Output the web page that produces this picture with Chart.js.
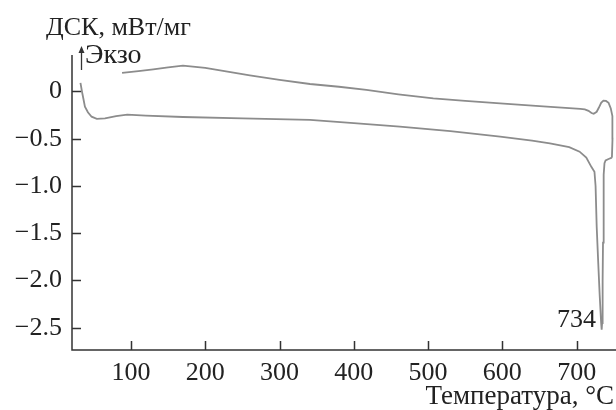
<!DOCTYPE html>
<html lang="ru">
<head>
<meta charset="utf-8">
<title>ДСК</title>
<script src="https://cdn.jsdelivr.net/npm/chart.js@4/dist/chart.umd.min.js"></script>
<style>
html, body { margin: 0; padding: 0; background: #fff; }
#wrap { width: 616px; height: 410px; }
</style>
</head>
<body>
<div id="wrap"><canvas id="dsc" width="616" height="410"></canvas></div>
<script>
// heating run (lower curve with the 734 °C peak)
const heatT = [32, 34, 36, 38, 42, 47, 54, 65, 80, 95, 120, 170, 250, 341, 400, 462, 530, 597, 640, 664, 690, 704, 713, 720, 724, 725.5, 727, 729, 731, 733, 733.7, 734.3, 735, 735.5, 736, 736.8, 737.5, 739, 743, 747.5];
const heatV = [0.09, 0.0, -0.08, -0.16, -0.22, -0.267, -0.29, -0.285, -0.26, -0.245, -0.255, -0.27, -0.285, -0.30, -0.335, -0.372, -0.42, -0.478, -0.52, -0.55, -0.59, -0.637, -0.70, -0.80, -0.85, -1.0, -1.43, -1.8, -2.15, -2.45, -2.52, -2.45, -2.0, -1.6, -1.2, -0.88, -0.76, -0.73, -0.715, -0.70];
// cooling run (upper curve), from the turning point back to ~90 °C
const coolT = [747.5, 748.3, 748.5, 747.8, 746, 743, 739.5, 736, 733, 730, 727, 723, 720, 716, 711, 705, 650, 597, 550, 507, 460, 417, 380, 341, 300, 260, 230, 200, 170, 150, 130, 110, 88];
const coolV = [-0.70, -0.50, -0.35, -0.26, -0.18, -0.12, -0.10, -0.097, -0.12, -0.17, -0.215, -0.235, -0.228, -0.205, -0.19, -0.185, -0.155, -0.125, -0.10, -0.072, -0.03, 0.016, 0.05, 0.079, 0.123, 0.17, 0.21, 0.25, 0.273, 0.255, 0.235, 0.215, 0.196];

const xTicks = [100, 200, 300, 400, 500, 600, 700];
const yTicks = [0, -0.5, -1.0, -1.5, -2.0, -2.5];
const peakLabel = '734';
const peakT = 734;

const serif = '"Liberation Serif", "DejaVu Serif", serif';
const inkColor = '#333';
const curveColor = '#8c8c8c';

function pts(xs, ys) {
    return xs.map((x, i) => ({x: x, y: ys[i]}));
}

function fmtY(v) {
    if (v === 0) return '0';
    return (v < 0 ? '\u2212' : '') + Math.abs(v).toFixed(1);
}

// axes with inward ticks + free text
const decor = {
    id: 'decor',
    afterDraw(chart) {
        const ctx = chart.ctx;
        const a = chart.chartArea;
        const xs = chart.scales.x, ys = chart.scales.y;
        ctx.save();
        ctx.strokeStyle = inkColor;
        ctx.lineWidth = 1.5;
        ctx.beginPath();
        ctx.moveTo(a.left, a.top);
        ctx.lineTo(a.left, a.bottom);
        ctx.lineTo(a.right, a.bottom);
        for (const v of yTicks) {
            const py = Math.round(ys.getPixelForValue(v)) + 0.5;
            ctx.moveTo(a.left, py);
            ctx.lineTo(a.left + 9, py);
        }
        for (const v of xTicks) {
            const px = Math.round(xs.getPixelForValue(v)) + 0.5;
            ctx.moveTo(px, a.bottom);
            ctx.lineTo(px, a.bottom - 9);
        }
        ctx.stroke();

        // exo arrow
        ctx.lineWidth = 1.3;
        ctx.beginPath();
        ctx.moveTo(81.5, 70);
        ctx.lineTo(81.5, 50);
        ctx.stroke();
        ctx.fillStyle = inkColor;
        ctx.beginPath();
        ctx.moveTo(81.5, 46);
        ctx.lineTo(78.5, 53);
        ctx.lineTo(84.5, 53);
        ctx.closePath();
        ctx.fill();

        ctx.fillStyle = '#222';
        ctx.textBaseline = 'alphabetic';
        ctx.textAlign = 'left';
        ctx.font = '26px ' + serif;
        ctx.fillText('ДСК, мВт/мг', 46, 35);
        ctx.font = '28px ' + serif;
        ctx.fillText('Экзо', 85, 63);

        ctx.textAlign = 'right';
        ctx.textBaseline = 'middle';
        ctx.font = '26px ' + serif;
        ctx.fillText(peakLabel, xs.getPixelForValue(peakT) - 6, 320);
        ctx.font = '27px ' + serif;
        ctx.fillText('Температура, °C', 614, 397);
        ctx.restore();
    }
};

new Chart(document.getElementById('dsc'), {
    type: 'scatter',
    data: {
        datasets: [
            {
                label: 'нагрев',
                data: pts(heatT, heatV),
                showLine: true,
                borderColor: curveColor,
                borderWidth: 1.8,
                pointRadius: 0,
                tension: 0
            },
            {
                label: 'охлаждение',
                data: pts(coolT, coolV),
                showLine: true,
                borderColor: curveColor,
                borderWidth: 1.8,
                pointRadius: 0,
                tension: 0
            }
        ]
    },
    options: {
        responsive: false,
        animation: false,
        layout: { padding: { left: 0, right: 0, top: 55, bottom: 0 } },
        plugins: {
            legend: { display: false },
            tooltip: { enabled: false }
        },
        scales: {
            x: {
                type: 'linear',
                min: 20.6,
                max: 753,
                grid: { display: false, drawTicks: false },
                border: { display: false },
                afterFit: (s) => { s.height = 60; },
                afterBuildTicks: (s) => { s.ticks = xTicks.map(v => ({value: v})); },
                ticks: {
                    color: '#222',
                    padding: 8,
                    maxRotation: 0,
                    font: { family: serif, size: 26 },
                    callback: (v) => String(v)
                }
            },
            y: {
                type: 'linear',
                min: -2.736,
                max: 0.386,
                grid: { display: false, drawTicks: false },
                border: { display: false },
                afterFit: (s) => { s.width = 72; },
                afterBuildTicks: (s) => { s.ticks = yTicks.map(v => ({value: v})); },
                ticks: {
                    color: '#222',
                    padding: 10,
                    font: { family: serif, size: 26 },
                    callback: (v) => fmtY(v)
                }
            }
        }
    },
    plugins: [decor]
});
</script>
</body>
</html>
